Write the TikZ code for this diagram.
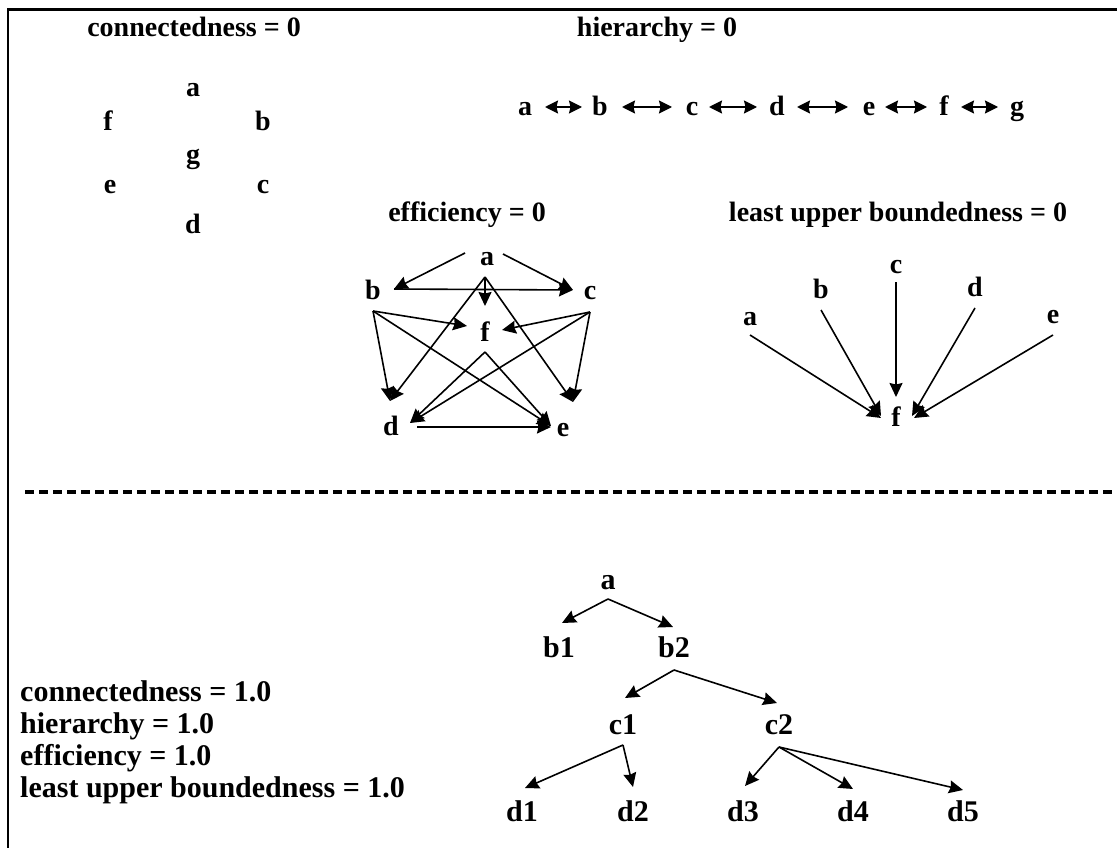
\documentclass[tikz,border=0pt]{standalone}
\usepackage{fontspec}
\setmainfont{Liberation Serif}
\usetikzlibrary{arrows.meta,calc}
\begin{document}
\begin{tikzpicture}[x=1pt,y=-1pt,
  lbl/.style={font=\fontsize{28}{30}\selectfont\bfseries, inner sep=0pt, text height=20pt, text depth=3pt},
  big/.style={font=\fontsize{30}{32}\selectfont\bfseries, text height=21pt, text depth=3pt},
  arc/.style={line width=1.6pt, -{Stealth[length=14pt,width=13pt,inset=1.5pt]}},
  twoway/.style={line width=1.6pt, {Stealth[length=13pt,width=13pt,inset=1.5pt]}-{Stealth[length=13pt,width=13pt,inset=1.5pt]}},
  sep/.style={line width=3.5pt, dash pattern=on 9pt off 5pt}]
\useasboundingbox (0,0) rectangle (1117,848);
\fill[white] (0,0) rectangle (1117,848);

% frame
\draw[line width=2.5pt] (8,848) -- (8,9.5) -- (1117,9.5);

% ---- connectedness = 0 : isolated points
\node[lbl] (t1) at (194,28) {connectedness = 0};
\node[lbl] (ca) at (193,88) {a};
\node[lbl] (cf) at (108,122) {f};
\node[lbl] (cb) at (263,122) {b};
\node[lbl] (cg) at (193,155) {g};
\node[lbl] (ce) at (110,185) {e};
\node[lbl] (cc) at (263,185) {c};
\node[lbl] (cd) at (193,225) {d};

% ---- hierarchy = 0 : a chain of two-way links
\node[lbl] (t2) at (657,28) {hierarchy = 0};
\foreach \n/\x in {a/525,b/600,c/692,d/777,e/869,f/944,g/1017}
  \node[lbl] (h\n) at (\x,107) {\n};
\draw[twoway] ($(ha)+(20,0)$) -- ($(hb)+(-18,0)$);
\draw[twoway] ($(hb)+(22,0)$) -- ($(hc)+(-20,0)$);
\draw[twoway] ($(hc)+(17,0)$) -- ($(hd)+(-20,0)$);
\draw[twoway] ($(hd)+(20,0)$) -- ($(he)+(-21,0)$);
\draw[twoway] ($(he)+(16,0)$) -- ($(hf)+(-17,0)$);
\draw[twoway] ($(hf)+(17,0)$) -- ($(hg)+(-19,0)$);

% ---- efficiency = 0 : every possible link
\node[lbl] (t3) at (467,213) {efficiency = 0};
\node[lbl] (ea) at (487,257) {a};
\node[lbl] (eb) at (373,291) {b};
\node[lbl] (ec) at (590,291) {c};
\node[lbl] (ef) at (485,333) {f};
\node[lbl] (ed) at (391,427) {d};
\node[lbl] (ee) at (563,428) {e};
\draw[arc] ($(ea)+(-22,-4)$) -- ($(eb)+(21,-2)$);
\draw[arc] ($(ea)+(16,-3)$) -- ($(ec)+(-17,-1)$);
\draw[arc] ($(ea)+(-2,20)$) -- ($(ef)+(0,-27)$);
\draw[arc] ($(ea)+(-2,20)$) -- ($(ed)+(-1,-26)$);
\draw[arc] ($(ea)+(-2,20)$) -- ($(ee)+(10,-26)$);
\draw[arc] ($(eb)+(21,-2)$) -- ($(ec)+(-17,-1)$);
\draw[arc] ($(eb)+(0,20)$) -- ($(ef)+(-18,-7)$);
\draw[arc] ($(eb)+(0,20)$) -- ($(ed)+(-1,-26)$);
\draw[arc] ($(eb)+(0,20)$) -- ($(ee)+(-12,-2)$);
\draw[arc] ($(ec)+(0,21)$) -- ($(ef)+(17,-3)$);
\draw[arc] ($(ec)+(0,21)$) -- ($(ee)+(10,-26)$);
\draw[arc] ($(ec)+(0,21)$) -- ($(ed)+(19,-4)$);
\draw[arc] ($(ef)+(0,19)$) -- ($(ed)+(19,-4)$);
\draw[arc] ($(ef)+(0,19)$) -- ($(ee)+(-12,-2)$);
\draw[arc] ($(ed)+(26,0)$) -- ($(ee)+(-12,-1)$);

% ---- least upper boundedness = 0 : every node points to f
\node[lbl] (t4) at (898,213) {least upper boundedness = 0};
\node[lbl] (la) at (750,317) {a};
\node[lbl] (lb) at (821,290) {b};
\node[lbl] (lc) at (896,265) {c};
\node[lbl] (ld) at (975,288) {d};
\node[lbl] (le) at (1053,315) {e};
\node[lbl] (lf) at (896,418) {f};
\draw[arc] ($(la)+(0,18)$) -- ($(lf)+(-15,0)$);
\draw[arc] ($(lb)+(0,20)$) -- ($(lf)+(-15,-2)$);
\draw[arc] ($(lc)+(0,17)$) -- ($(lf)+(0,-21)$);
\draw[arc] ($(ld)+(0,20)$) -- ($(lf)+(16,-2)$);
\draw[arc] ($(le)+(0,20)$) -- ($(lf)+(18,0)$);

% ---- separator
\draw[sep] (25,492) -- (1112,492);

% ---- the tree: all four measures equal 1
\node[lbl, big, anchor=west] (s1) at (20,692) {connectedness = 1.0};
\node[lbl, big, anchor=west] (s2) at (20,724) {hierarchy = 1.0};
\node[lbl, big, anchor=west] (s3) at (20,756) {efficiency = 1.0};
\node[lbl, big, anchor=west] (s4) at (20,788) {least upper boundedness = 1.0};

\node[lbl, big] (ta)  at (608,580) {a};
\node[lbl, big] (tb1) at (559,648) {b1};
\node[lbl, big] (tb2) at (674,648) {b2};
\node[lbl, big] (tc1) at (623,725) {c1};
\node[lbl, big] (tc2) at (779,725) {c2};
\node[lbl, big] (td1) at (522,812) {d1};
\node[lbl, big] (td2) at (633,812) {d2};
\node[lbl, big] (td3) at (743,812) {d3};
\node[lbl, big] (td4) at (853,812) {d4};
\node[lbl, big] (td5) at (963,812) {d5};
\draw[arc] ($(ta)+(0,19)$) -- ($(tb1)+(3,-25)$);
\draw[arc] ($(ta)+(0,19)$) -- ($(tb2)+(-1,-21)$);
\draw[arc] ($(tb2)+(0,22)$) -- ($(tc1)+(2,-27)$);
\draw[arc] ($(tb2)+(0,22)$) -- ($(tc2)+(-2,-22)$);
\draw[arc] ($(tc1)+(0,20)$) -- ($(td1)+(3,-24)$);
\draw[arc] ($(tc1)+(0,20)$) -- ($(td2)+(0,-25)$);
\draw[arc] ($(tc2)+(0,22)$) -- ($(td3)+(2,-26)$);
\draw[arc] ($(tc2)+(0,22)$) -- ($(td4)+(0,-23)$);
\draw[arc] ($(tc2)+(0,22)$) -- ($(td5)+(0,-22)$);
\end{tikzpicture}
\end{document}
